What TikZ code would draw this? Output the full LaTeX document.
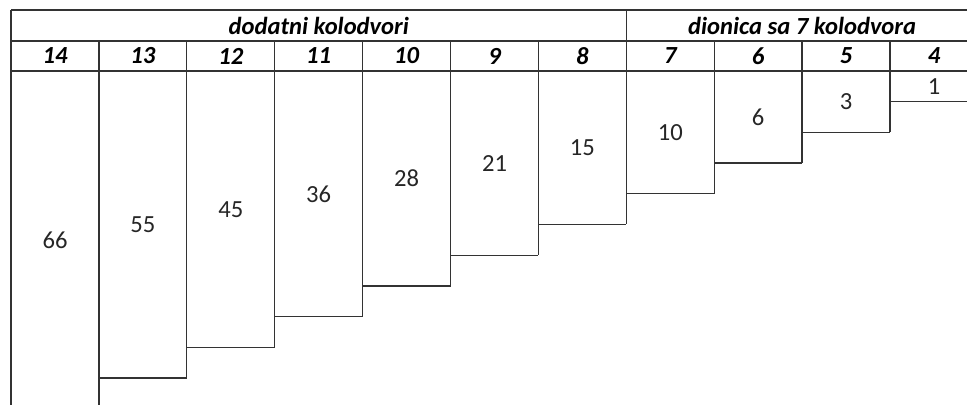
\documentclass[tikz,border=0pt]{standalone}
\usepackage{fontspec}
\setmainfont{Carlito}

\begin{document}
\begin{tikzpicture}[scale=0.2,
  every node/.append style={font=\fontsize{14}{16}\selectfont},
  hdr/.style={font=\fontsize{14}{16}\selectfont\bfseries\itshape},
  cell/.style={text=black!85}]
\tikzstyle{every node}+=[inner sep=0pt]
\useasboundingbox (0,0) rectangle (96.7,-40.5);
\tikzstyle{rule}=[black!80, line width=0.75pt]
% header rows
\draw [rule] (1.1,-1.0) -- (96.7,-1.0);
\draw [rule] (1.1,-4.1) -- (96.7,-4.1);
\draw [rule] (1.1,-7.1) -- (96.7,-7.1);
\draw [rule] (1.1,-1.0) -- (1.1,-40.5);
\draw [rule] (62.63,-1.0) -- (62.63,-22.45);
\node [hdr] (extra) at (31.87,-2.55) {dodatni kolodvori};
\node [hdr] (section) at (80.21,-2.55) {dionica sa 7 kolodvora};
% column dividers, each down to the foot of the longer box
\draw [rule] (9.89,-4.1) -- (9.89,-40.5);
\draw [rule] (18.68,-4.1) -- (18.68,-37.8);
\draw [rule] (27.47,-4.1) -- (27.47,-34.73);
\draw [rule] (36.26,-4.1) -- (36.26,-31.66);
\draw [rule] (45.05,-4.1) -- (45.05,-28.59);
\draw [rule] (53.84,-4.1) -- (53.84,-25.52);
\draw [rule] (71.42,-4.1) -- (71.42,-19.38);
\draw [rule] (80.21,-4.1) -- (80.21,-16.31);
\draw [rule] (89.0,-4.1) -- (89.0,-13.24);
% box feet
\draw [rule] (9.89,-37.8) -- (18.68,-37.8);
\draw [rule] (18.68,-34.73) -- (27.47,-34.73);
\draw [rule] (27.47,-31.66) -- (36.26,-31.66);
\draw [rule] (36.26,-28.59) -- (45.05,-28.59);
\draw [rule] (45.05,-25.52) -- (53.84,-25.52);
\draw [rule] (53.84,-22.45) -- (62.63,-22.45);
\draw [rule] (62.63,-19.38) -- (71.42,-19.38);
\draw [rule] (71.42,-16.31) -- (80.21,-16.31);
\draw [rule] (80.21,-13.24) -- (89.0,-13.24);
\draw [rule] (89.0,-10.17) -- (96.7,-10.17);
% station numbers
\node [hdr] (n14) at (5.50,-5.6) {14};
\node [hdr] (n13) at (14.29,-5.6) {13};
\node [hdr] (n12) at (23.08,-5.6) {12};
\node [hdr] (n11) at (31.87,-5.6) {11};
\node [hdr] (n10) at (40.66,-5.6) {10};
\node [hdr] (n9) at (49.45,-5.6) {9};
\node [hdr] (n8) at (58.24,-5.6) {8};
\node [hdr] (n7) at (67.03,-5.6) {7};
\node [hdr] (n6) at (75.82,-5.6) {6};
\node [hdr] (n5) at (84.61,-5.6) {5};
\node [hdr] (n4) at (93.40,-5.6) {4};
% box values
\node [cell] (v14) at (5.50,-24.0) {66};
\node [cell] (v13) at (14.29,-22.45) {55};
\node [cell] (v12) at (23.08,-20.92) {45};
\node [cell] (v11) at (31.87,-19.38) {36};
\node [cell] (v10) at (40.66,-17.85) {28};
\node [cell] (v9) at (49.45,-16.31) {21};
\node [cell] (v8) at (58.24,-14.78) {15};
\node [cell] (v7) at (67.03,-13.24) {10};
\node [cell] (v6) at (75.82,-11.71) {6};
\node [cell] (v5) at (84.61,-10.17) {3};
\node [cell] (v4) at (93.40,-8.64) {1};
\end{tikzpicture}
\end{document}
